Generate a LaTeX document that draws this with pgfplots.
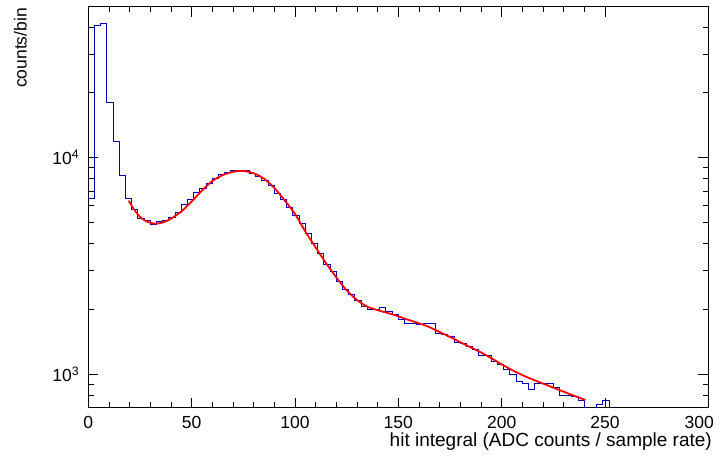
\documentclass[border=0pt]{standalone}
\usepackage{fontspec}
\setmainfont{Liberation Sans}
\usepackage{pgfplots}
\pgfplotsset{compat=1.18}
\definecolor{histblue}{RGB}{0,0,185}
\begin{document}
\begin{tikzpicture}
\begin{axis}[
  scale only axis, width=620pt, height=401pt,
  xmin=0, xmax=300, ymode=log, log basis y=10, ymin=700, ymax=49800,
  xtick={0,50,...,250}, minor x tick num=4,
  extra x ticks={300},
  extra x tick style={xticklabel style={xshift=-9pt}},
  ytick={1000,10000}, yticklabels={10\textsuperscript{3},10\textsuperscript{4}},
  minor ytick={700,800,900,2000,3000,4000,5000,6000,7000,8000,9000,20000,30000,40000},
  /pgf/number format/assume math mode=true,
  tick align=inside, tick pos=both,
  major tick length=10pt, minor tick length=5.5pt,
  axis line style={line width=0.8pt},
  every tick/.style={black, line width=0.8pt},
  ticklabel style={font=\fontsize{17.5}{19}\selectfont},
  xticklabel style={inner sep=0pt, yshift=-8pt},
  yticklabel style={inner sep=0pt, xshift=-9pt},
  xlabel={hit integral (ADC counts / sample rate)},
  ylabel={counts/bin},
  xlabel style={font=\fontsize{19}{21}\selectfont, at={(axis description cs:1.006,0)}, anchor=north east, inner sep=0pt, yshift=-25pt},
  ylabel style={font=\fontsize{17.5}{19}\selectfont, at={(axis description cs:-0.1097,0.997)}, anchor=east, inner sep=0pt},
]
\addplot[const plot, histblue, line width=0.9pt] coordinates {
(0,6500) (3,41000) (6,41700) (9,18000) (12,11850) (15,8300) (18,6500) (21,5780)
(24,5250) (27,5120) (30,4890) (33,5070) (36,5150) (39,5290) (42,5575) (45,6050)
(48,6430) (51,6900) (54,7220) (57,7620) (60,8040) (63,8380) (66,8530) (69,8690)
(72,8600) (75,8750) (78,8410) (81,8170) (84,7830) (87,7430) (90,6850) (93,6380)
(96,5900) (99,5380) (102,4980) (105,4480) (108,4030) (111,3620) (114,3200) (117,2980)
(120,2680) (123,2450) (126,2325) (129,2200) (132,2065) (135,1980) (138,1980) (141,2040)
(144,1940) (147,1880) (150,1795) (153,1707) (156,1718) (159,1700) (162,1718) (165,1718)
(168,1546) (171,1530) (174,1493) (177,1400) (180,1380) (183,1340) (186,1294) (189,1214)
(192,1214) (195,1150) (198,1111) (201,1054) (204,1002) (207,925) (210,909) (213,853)
(216,909) (219,904) (222,904) (225,871) (228,795) (231,795) (234,788) (237,753)
(240,400) (243,400) (246,726) (249,753) (252,400) (300,400)
};
\addplot[red, line width=1.8pt, smooth] coordinates {
(19.5,6330) (22.5,5700) (25,5330) (27.5,5120) (30,5000) (32.5,4960) (35,4990) (37.5,5080)
(40,5220) (45,5640) (50,6270) (55,7050) (60,7800) (65,8300) (70,8600) (75,8680)
(80,8470) (85,8000) (90,7250) (95,6350) (100,5500) (105,4560) (110,3850) (115,3260)
(120,2800) (125,2440) (130,2200) (135,2050) (140,1975) (145,1915) (150,1850) (155,1780)
(160,1718) (165,1650) (170,1565) (175,1485) (180,1405) (185,1330) (190,1260) (195,1185)
(200,1110) (205,1045) (210,990) (215,945) (220,905) (225,866) (230,830) (235,795) (240.5,760)
};
\end{axis}
\pgfresetboundingbox
\path[use as bounding box] (-88.3pt,-53.3pt) rectangle (633.7pt,407.7pt);
\end{tikzpicture}
\end{document}
